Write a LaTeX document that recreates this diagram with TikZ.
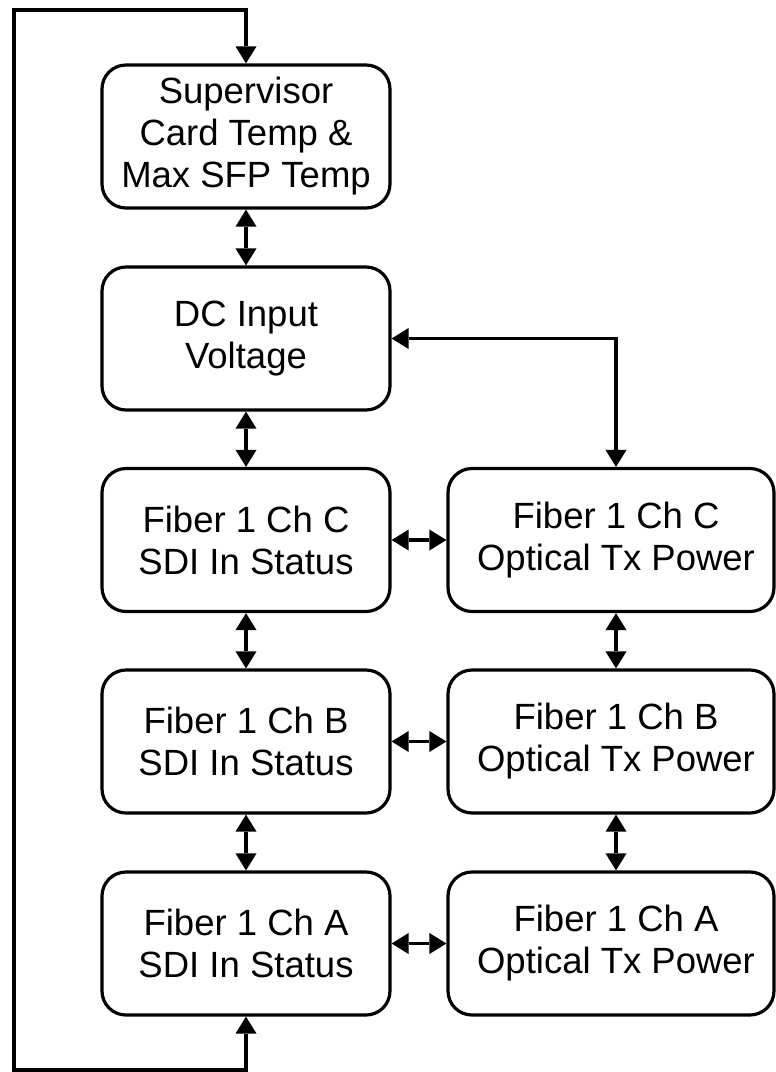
\documentclass[tikz,border=0pt]{standalone}
\usepackage{fontspec}
\setmainfont{Liberation Sans}
\usetikzlibrary{arrows.meta,calc}
\begin{document}
\begin{tikzpicture}[x=1pt,y=-1pt,
  boxstyle/.style={draw=black,line width=3.2pt,rounded corners=24pt,inner sep=0pt,
    minimum height=143pt,fill=white},
  leftbox/.style={boxstyle,minimum width=288pt},
  rightbox/.style={boxstyle,minimum width=326pt},
  lbl/.style={align=center,inner sep=0pt,font=\fontsize{36.5}{42}\selectfont},
  tip/.tip={Triangle[width=21pt,length=17pt,line width=0pt]},
  conn/.style={line width=3.2pt,tip-tip}
]
\useasboundingbox (0,0) rectangle (776,1072);
% left column
\node[leftbox] (l1) at (246,136.5) {};
\node[lbl] (l1t) at (246,136.5) {Supervisor\\Card Temp \&\\Max SFP Temp};
\node[leftbox] (l2) at (246,338.5) {};
\node[lbl] (l2t) at (246,338.5) {DC Input\\Voltage};
\node[leftbox] (l3) at (246,540) {};
\node[lbl] (l3t) at (246,540) {Fiber 1 Ch C\\SDI In Status};
\node[leftbox] (l4) at (246,741.5) {};
\node[lbl] (l4t) at (246,741.5) {Fiber 1 Ch B\\SDI In Status};
\node[leftbox] (l5) at (246,943.5) {};
\node[lbl] (l5t) at (246,943.5) {Fiber 1 Ch A\\SDI In Status};
% right column
\node[rightbox] (r3) at (611,540) {};
\node[lbl] (r3t) at (616,540) {Fiber 1 Ch C\\Optical Tx Power};
\node[rightbox] (r4) at (611,741.5) {};
\node[lbl] (r4t) at (616,741.5) {Fiber 1 Ch B\\Optical Tx Power};
\node[rightbox] (r5) at (611,943.5) {};
\node[lbl] (r5t) at (616,943.5) {Fiber 1 Ch A\\Optical Tx Power};
% vertical connectors left
\draw[conn] (l1.south) -- (l2.north);
\draw[conn] (l2.south) -- (l3.north);
\draw[conn] (l3.south) -- (l4.north);
\draw[conn] (l4.south) -- (l5.north);
% vertical connectors right
\draw[conn] (r3t |- r3.south) -- (r4t |- r4.north);
\draw[conn] (r4t |- r4.south) -- (r5t |- r5.north);
% horizontal connectors
\draw[conn] (l3.east) -- (r3.west);
\draw[conn] (l4.east) -- (r4.west);
\draw[conn] (l5.east) -- (r5.west);
% DC input to optical C
\draw[conn] (l2.east) -| (r3t |- r3.north);
% loop
\coordinate (lb) at (14,1070);
\coordinate (lt) at (14,10);
\draw[conn] (l5.south) |- (lb) -- (lt) -| (l1.north);
\end{tikzpicture}
\end{document}
